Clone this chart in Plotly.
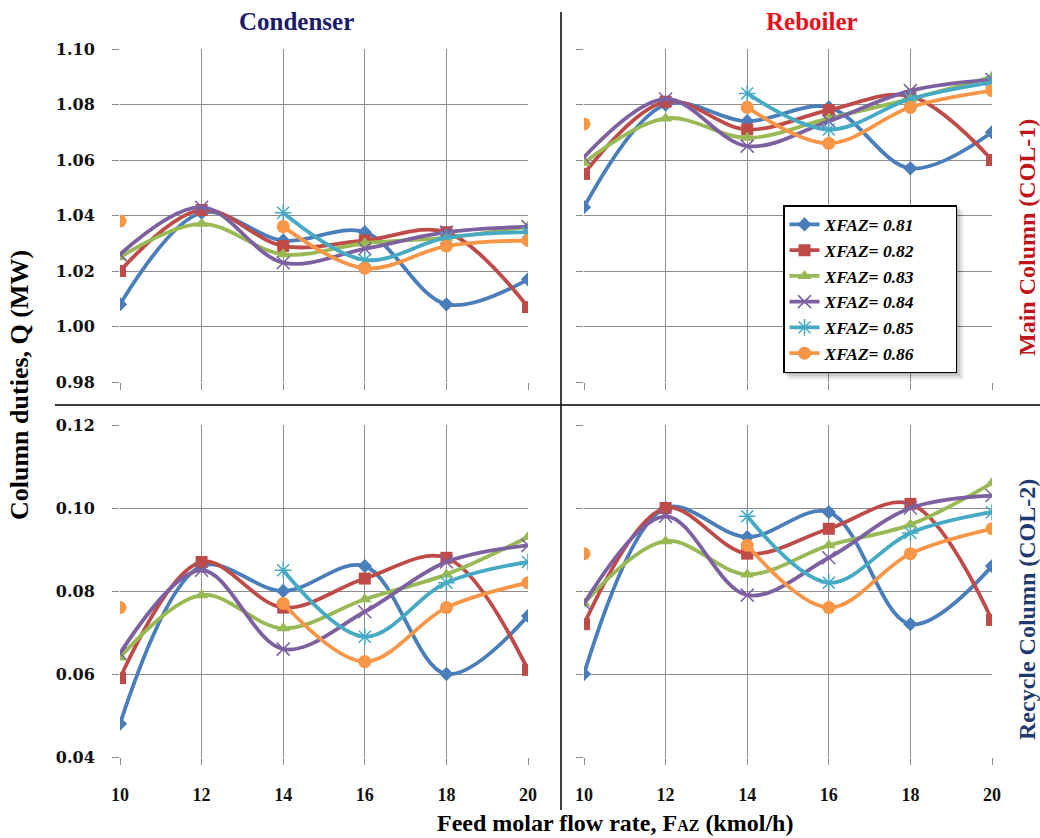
import plotly.graph_objects as go

# Feed molar flow rate of azeotrope (kmol/h)
feed = [10, 12, 14, 16, 18, 20]
series_names = ["XFAZ= 0.81", "XFAZ= 0.82", "XFAZ= 0.83",
                "XFAZ= 0.84", "XFAZ= 0.85", "XFAZ= 0.86"]

# Main column (COL-1) duties, MW
cond_main = [
    [1.008, 1.041, 1.031, 1.034, 1.008, 1.017],
    [1.020, 1.042, 1.029, 1.031, 1.034, 1.007],
    [1.025, 1.037, 1.026, 1.030, 1.032, 1.036],
    [1.026, 1.043, 1.023, 1.028, 1.034, 1.036],
    [None, None, 1.041, 1.024, 1.032, 1.034],
    [1.038, None, 1.036, 1.021, 1.029, 1.031],
]
reb_main = [
    [1.043, 1.080, 1.074, 1.079, 1.057, 1.070],
    [1.055, 1.081, 1.071, 1.078, 1.083, 1.060],
    [1.059, 1.075, 1.068, 1.075, 1.082, 1.090],
    [1.061, 1.082, 1.065, 1.074, 1.085, 1.089],
    [None, None, 1.084, 1.071, 1.082, 1.088],
    [1.073, None, 1.079, 1.066, 1.079, 1.085],
]

# Recycle column (COL-2) duties, MW
cond_recycle = [
    [0.048, 0.086, 0.080, 0.086, 0.060, 0.074],
    [0.059, 0.087, 0.076, 0.083, 0.088, 0.061],
    [0.064, 0.079, 0.071, 0.078, 0.084, 0.093],
    [0.065, 0.085, 0.066, 0.075, 0.087, 0.091],
    [None, None, 0.085, 0.069, 0.082, 0.087],
    [0.076, None, 0.077, 0.063, 0.076, 0.082],
]
reb_recycle = [
    [0.060, 0.100, 0.093, 0.099, 0.072, 0.086],
    [0.072, 0.100, 0.089, 0.095, 0.101, 0.073],
    [0.077, 0.092, 0.084, 0.091, 0.096, 0.106],
    [0.077, 0.098, 0.079, 0.088, 0.100, 0.103],
    [None, None, 0.098, 0.082, 0.094, 0.099],
    [0.089, None, 0.091, 0.076, 0.089, 0.095],
]

colors = ["#4A7EBB", "#BE4B48", "#98B954", "#7D60A0", "#46AAC5", "#F79646"]
symbols = ["diamond", "square", "triangle-up", "x-thin", "asterisk", "circle"]
msizes = [11, 12, 12, 13, 14, 13]

W, H = 1040, 838
FONT = "Liberation Serif"


def px_x(p):
    return p / W


def px_y(p):
    return 1 - p / H


fig = go.Figure()

panels = [
    (cond_main, "x", "y"),
    (reb_main, "x2", "y2"),
    (cond_recycle, "x3", "y3"),
    (reb_recycle, "x4", "y4"),
]

NBSP = "\u00a0"
for pi, (data, xa, ya) in enumerate(panels):
    for si, vals in enumerate(data):
        sym = symbols[si]
        marker = dict(color=colors[si], size=msizes[si], symbol=sym)
        if sym in ("x-thin", "asterisk"):
            marker["line"] = dict(color=colors[si], width=1.5)
        fig.add_trace(go.Scatter(
            x=feed, y=vals, xaxis=xa, yaxis=ya,
            mode="lines+markers",
            name="<b><i>" + series_names[si] + NBSP * 8 + "</i></b>",
            legendgroup=series_names[si],
            showlegend=(pi == 0),
            line=dict(color=colors[si], width=3.8, shape="spline", smoothing=1.0),
            marker=marker,
            connectgaps=False,
        ))

xdom_l = [px_x(120), px_x(528)]
xdom_r = [px_x(584), px_x(992)]
ydom_t = [px_y(382), px_y(49)]
ydom_b = [px_y(757), px_y(425)]

grid_color = "#8C8C8C"
ytick_font = dict(family="DejaVu Serif", size=16, color="#111111", weight="bold")
xtick_font = dict(family=FONT, size=18, color="#111111", weight="bold")


def xaxis(dom, anchor, labels):
    return dict(domain=dom, anchor=anchor, range=[10, 20], tickvals=feed,
                showticklabels=labels, ticks="outside", ticklen=7,
                tickcolor=grid_color, showgrid=True, gridcolor=grid_color,
                gridwidth=1, zeroline=False, showline=False, automargin=False,
                tickfont=xtick_font, ticklabelstandoff=14)


def yaxis(dom, anchor, rng, tv, labels):
    return dict(domain=dom, anchor=anchor, range=rng, tickvals=tv,
                ticktext=[f"{v:.2f}" for v in tv],
                showticklabels=labels, ticks="outside", ticklen=7,
                tickcolor=grid_color, showgrid=True, gridcolor=grid_color,
                gridwidth=1, zeroline=False, showline=False, automargin=False,
                tickfont=ytick_font, ticklabelstandoff=14)


main_ticks = [0.98, 1.00, 1.02, 1.04, 1.06, 1.08, 1.10]
rec_ticks = [0.04, 0.06, 0.08, 0.10, 0.12]

fig.update_layout(
    width=W, height=H,
    margin=dict(l=0, r=0, t=0, b=0, autoexpand=False),
    paper_bgcolor="white", plot_bgcolor="white",
    xaxis=xaxis(xdom_l, "y", False),
    yaxis=yaxis(ydom_t, "x", [0.98, 1.10], main_ticks, True),
    xaxis2=xaxis(xdom_r, "y2", False),
    yaxis2=yaxis(ydom_t, "x2", [0.98, 1.10], main_ticks, False),
    xaxis3=xaxis(xdom_l, "y3", True),
    yaxis3=yaxis(ydom_b, "x3", [0.04, 0.12], rec_ticks, True),
    xaxis4=xaxis(xdom_r, "y4", True),
    yaxis4=yaxis(ydom_b, "x4", [0.04, 0.12], rec_ticks, False),
    legend=dict(
        x=px_x(783), y=px_y(205), xanchor="left", yanchor="top",
        bgcolor="white", bordercolor="black", borderwidth=1.5,
        font=dict(family=FONT, size=17.5, color="black"),
        itemwidth=30, tracegroupgap=0,
    ),
    showlegend=True,
)

# soft drop shadow behind the legend box
lx0, ly0, lx1, ly1 = 783, 205, 956, 372
for off, op in [(8, 0.05), (6, 0.07), (4, 0.09), (2, 0.1)]:
    fig.add_shape(type="rect", xref="paper", yref="paper",
                  x0=px_x(lx0 + off - 2), x1=px_x(lx1 + off),
                  y0=px_y(ly1 + off), y1=px_y(ly0 + off - 2),
                  fillcolor="black", opacity=op, line_width=0, layer="above")

# quadrant dividers
fig.add_shape(type="line", xref="paper", yref="paper",
              x0=px_x(561), x1=px_x(561), y0=px_y(12), y1=px_y(810),
              line=dict(color="black", width=1.5))
fig.add_shape(type="line", xref="paper", yref="paper",
              x0=px_x(55), x1=1, y0=px_y(405), y1=px_y(405),
              line=dict(color="black", width=1.5))

annotations = [
    dict(text="Condenser", x=px_x(296), y=px_y(22), size=25, color="#1B1B6E"),
    dict(text="Reboiler", x=px_x(812), y=px_y(22), size=25, color="#E8101C"),
    dict(text="Column duties, Q (MW)", x=px_x(20), y=px_y(385), textangle=-90,
         size=26, color="black"),
    dict(text="Main Column (COL-1)", x=px_x(1027), y=px_y(238), textangle=-90,
         size=24, color="#C0141C"),
    dict(text="Recycle Column (COL-2)", x=px_x(1027), y=px_y(610), textangle=-90,
         size=24, color="#1F3A6E"),
    dict(text="Feed molar flow rate, F<span style='font-size:16px'>AZ</span> (kmol/h)",
         x=px_x(615), y=px_y(823), size=24, color="black"),
]
for a in annotations:
    size = a.pop("size")
    color = a.pop("color")
    fig.add_annotation(xref="paper", yref="paper", showarrow=False,
                       xanchor="center", yanchor="middle",
                       font=dict(family=FONT, size=size, color=color, weight="bold"),
                       **a)

fig.write_html("out.html")
